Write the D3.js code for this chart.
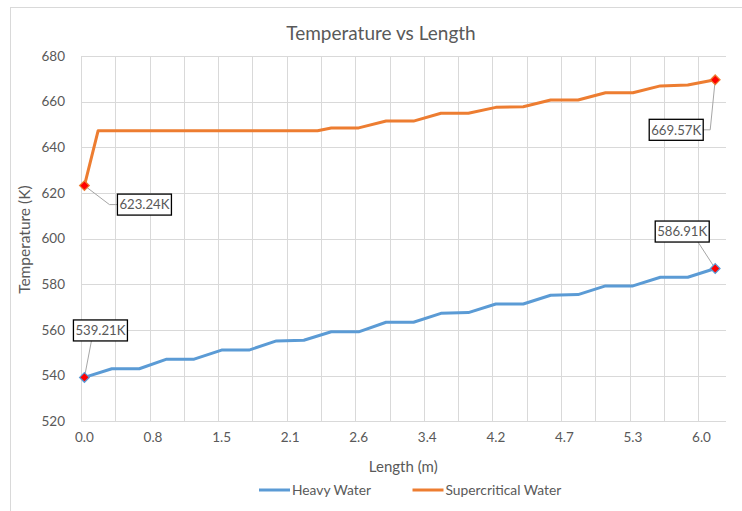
<!DOCTYPE html>
<html>
<head>
<meta charset="utf-8">
<script src="https://cdn.jsdelivr.net/npm/d3@7"></script>
<style>
  html, body { margin: 0; padding: 0; background: #fff; }
  svg { display: block; }
  text { font-family: Lato, "Open Sans", sans-serif; fill: #595959; }
</style>
</head>
<body>
<svg id="chart" width="742" height="511"></svg>
<script>
// Axial positions along the channel: 94 sample stations, labelled every 10th
const categoryCount = 94;
const tickIndex = [0, 10, 20, 30, 40, 50, 60, 70, 80, 90];
const lengthTicks = ["0.0", "0.8", "1.5", "2.1", "2.6", "3.4", "4.2", "4.7", "5.3", "6.0"];
const tempTicks = [520, 540, 560, 580, 600, 620, 640, 660, 680];

// Heavy water temperature (K) at the stations where its profile changes slope
const heavyIdx = [0, 4, 8, 12, 16, 20, 24, 28, 32, 36, 40, 44, 48, 52, 56, 60, 64, 68, 72, 76, 80, 84, 88, 92];
const heavyWater = [539.21, 543.0, 543.0, 547.2, 547.2, 551.2, 551.2, 555.2, 555.5, 559.2, 559.2, 563.4,
                    563.4, 567.3, 567.6, 571.4, 571.4, 575.2, 575.5, 579.3, 579.3, 583.1, 583.1, 586.91];

// Supercritical water temperature (K)
const scwIdx = [0, 2, 34, 36, 40, 44, 48, 52, 56, 60, 64, 68, 72, 76, 80, 84, 88, 92];
const supercritical = [623.24, 647.3, 647.3, 648.5, 648.5, 651.5, 651.5, 654.9, 654.9, 657.5, 657.8,
                       660.7, 660.7, 663.9, 663.9, 666.9, 667.3, 669.57];

const seriesNames = ["Heavy Water", "Supercritical Water"];
const seriesColors = ["#5B9BD5", "#ED7D31"];

const svg = d3.select("#chart");

// chart area outline
svg.append("rect")
  .attr("x", 10.5).attr("y", 7.5)
  .attr("width", 800).attr("height", 600)
  .attr("fill", "#fff").attr("stroke", "#D9D9D9");

const plot = { left: 81, right: 725.5, top: 56, bottom: 421.3 };

const x = d3.scaleBand()
  .domain(d3.range(categoryCount))
  .range([plot.left, plot.right])
  .paddingInner(0).paddingOuter(0);
const xc = i => x(i) + x.bandwidth() / 2;

const y = d3.scaleLinear().domain([520, 680]).range([plot.bottom, plot.top]);

// gridlines
const grid = svg.append("g").attr("stroke", "#D9D9D9").attr("stroke-width", 1).attr("shape-rendering", "crispEdges");
grid.selectAll("line.h").data(tempTicks).join("line")
  .attr("x1", plot.left).attr("x2", plot.right)
  .attr("y1", d => Math.round(y(d)) + 0.5).attr("y2", d => Math.round(y(d)) + 0.5);
grid.selectAll("line.v").data(d3.range(0, categoryCount, 5)).join("line")
  .attr("x1", d => Math.round(x(d)) + 0.5).attr("x2", d => Math.round(x(d)) + 0.5)
  .attr("y1", plot.top).attr("y2", plot.bottom);

// y axis labels
const yAxis = svg.append("g").attr("transform", `translate(${plot.left - 16},0)`)
  .call(d3.axisLeft(y).tickValues(tempTicks).tickSize(0).tickPadding(0));
yAxis.select(".domain").remove();
yAxis.selectAll("text").attr("font-size", 13.5).attr("fill", "#595959")
  .style("font-family", "Lato, sans-serif");

// x axis labels
const xAxis = svg.append("g").attr("transform", `translate(0,${plot.bottom + 11})`)
  .call(d3.axisBottom(x).tickValues(tickIndex).tickSize(0).tickPadding(0)
    .tickFormat((d, i) => lengthTicks[i]));
xAxis.select(".domain").remove();
xAxis.selectAll("text").attr("font-size", 13.5).attr("fill", "#595959")
  .style("font-family", "Lato, sans-serif");

// titles
svg.append("text").attr("x", 381).attr("y", 39.5).attr("text-anchor", "middle")
  .attr("font-size", 19).text("Temperature vs Length");
svg.append("text").attr("x", (plot.left + plot.right) / 2).attr("y", 472).attr("text-anchor", "middle")
  .attr("font-size", 15).text("Length (m)");
svg.append("text").attr("transform", `translate(30,${(plot.top + plot.bottom) / 2 + 1}) rotate(-90)`)
  .attr("text-anchor", "middle").attr("font-size", 15.5).text("Temperature (K)");

// series lines
const series = [
  { name: seriesNames[0], color: seriesColors[0], pts: heavyIdx.map((d, i) => [d, heavyWater[i]]) },
  { name: seriesNames[1], color: seriesColors[1], pts: scwIdx.map((d, i) => [d, supercritical[i]]) }
];
const line = d3.line().x(d => xc(d[0])).y(d => y(d[1]));
svg.append("g").selectAll("path").data(series).join("path")
  .attr("d", d => line(d.pts))
  .attr("fill", "none").attr("stroke", d => d.color)
  .attr("stroke-width", 3).attr("stroke-linejoin", "round");

// end-point markers with value callouts
const callouts = [
  { s: 0, end: 0, box: [16, -47], elbow: [9, -47] },
  { s: 0, end: 1, box: [-33, -37], elbow: [-24, -37] },
  { s: 1, end: 0, box: [60, 19], elbow: [25, 19] },
  { s: 1, end: 1, box: [-39, 50], elbow: [-5, 50] }
];
const boxW = 54, boxH = 21;
callouts.forEach(c => {
  const ser = series[c.s];
  const p = c.end === 0 ? ser.pts[0] : ser.pts[ser.pts.length - 1];
  const px = xc(p[0]), py = y(p[1]);
  const bx = px + c.box[0], by = py + c.box[1];
  const ex = px + c.elbow[0];
  const edgeX = c.box[0] > 0 ? bx - boxW / 2 : bx + boxW / 2;
  svg.append("polyline")
    .attr("points", `${px},${py} ${ex},${by} ${edgeX},${by}`)
    .attr("fill", "none").attr("stroke", "#A6A6A6").attr("stroke-width", 1);
  svg.append("rect")
    .attr("x", bx - boxW / 2).attr("y", by - boxH / 2)
    .attr("width", boxW).attr("height", boxH)
    .attr("fill", "#fff").attr("stroke", "#000").attr("stroke-width", 1.3);
  svg.append("text").attr("x", bx).attr("y", by).attr("dy", "0.36em")
    .attr("text-anchor", "middle").attr("font-size", 13.2)
    .text(`${p[1].toFixed(2)}K`);
});
const diamond = d3.symbol().type(d3.symbolDiamond2).size(60);
callouts.forEach(c => {
  const ser = series[c.s];
  const p = c.end === 0 ? ser.pts[0] : ser.pts[ser.pts.length - 1];
  svg.append("path").attr("d", diamond())
    .attr("transform", `translate(${xc(p[0])},${y(p[1])})`)
    .attr("fill", "#FF0000").attr("stroke", ser.color).attr("stroke-width", 1.2);
});

// legend
const legend = svg.append("g").attr("transform", "translate(259,490)");
const lx = [0, 153.5];
series.forEach((s, i) => {
  legend.append("line").attr("x1", lx[i]).attr("x2", lx[i] + 31)
    .attr("y1", 0).attr("y2", 0).attr("stroke", s.color).attr("stroke-width", 3);
  legend.append("text").attr("x", lx[i] + 33).attr("y", 0).attr("dy", "0.35em")
    .attr("font-size", 13.8).text(s.name);
});
</script>
</body>
</html>
